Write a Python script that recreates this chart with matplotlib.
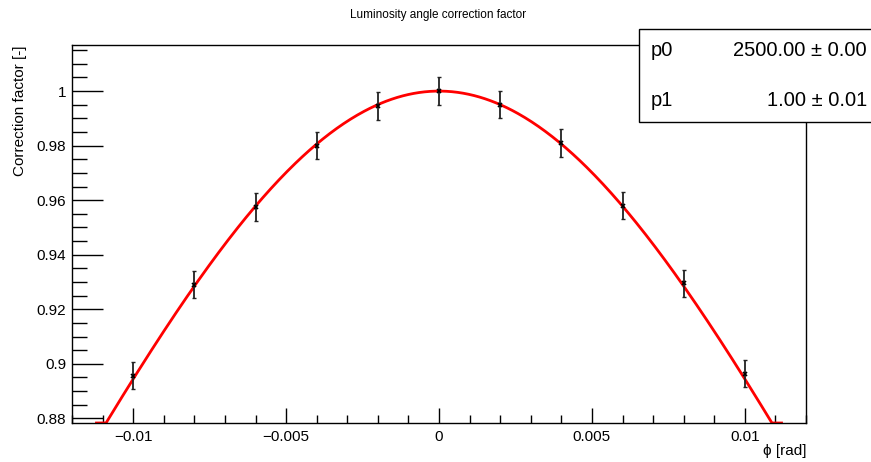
import numpy as np
import matplotlib
matplotlib.use("Agg")
import matplotlib.pyplot as plt
from matplotlib.ticker import MultipleLocator, FixedLocator

plt.rcParams['font.family'] = ['Liberation Sans', 'DejaVu Sans']

# Data
phi = [-0.010, -0.008, -0.006, -0.004, -0.002, 0.0, 0.002, 0.004, 0.006, 0.008, 0.010]
corr = [0.8956, 0.9290, 0.9575, 0.9800, 0.9945, 1.0000, 0.9950, 0.9810, 0.9580, 0.9295, 0.8964]
corr_err = [0.005, 0.005, 0.005, 0.005, 0.005, 0.005, 0.005, 0.005, 0.005, 0.005, 0.005]

# Fit parameters
p0, p0_err = 2500.00, 0.00
p1, p1_err = 1.00, 0.01
fit_range = (-0.0112, 0.0112)

xlim = (-0.012, 0.012)
ylim = (0.8783, 1.0169)

fig = plt.figure(figsize=(8.71, 4.62), dpi=100)
ax = fig.add_axes([72/871, 1-423/462, (806-72)/871, (423-45)/462])

xf = np.linspace(fit_range[0], fit_range[1], 500)
yf = p1 / np.sqrt(1 + p0 * xf**2)
yf = np.clip(yf, ylim[0], None)
ax.plot(xf, yf, color='#ff0000', lw=2.0, zorder=2, clip_on=True)

ax.errorbar(phi, corr, yerr=corr_err, fmt='none', ecolor='#222222',
            elinewidth=1.3, capsize=1.5, capthick=1.0, zorder=3)
ax.plot(phi, corr, ls='none', marker='x', ms=3, mew=1.2, color='black', zorder=4)

ax.set_xlim(*xlim)
ax.set_ylim(*ylim)

ax.xaxis.set_major_locator(FixedLocator([-0.01, -0.005, 0, 0.005, 0.01]))
ax.xaxis.set_minor_locator(MultipleLocator(0.001))
ax.yaxis.set_major_locator(FixedLocator([0.88, 0.90, 0.92, 0.94, 0.96, 0.98, 1.0]))
ax.yaxis.set_minor_locator(MultipleLocator(0.005))
ax.set_xticklabels(['\u22120.01', '\u22120.005', '0', '0.005', '0.01'])
ax.set_yticklabels(['0.88', '0.9', '0.92', '0.94', '0.96', '0.98', '1'])

ax.tick_params(axis='x', which='major', direction='in', length=11, width=1.0,
               labelsize=11, pad=5, top=False)
ax.tick_params(axis='x', which='minor', direction='in', length=5.5, width=1.0, top=False)
ax.tick_params(axis='y', which='major', direction='in', length=22, width=1.0,
               labelsize=11, pad=4, right=False)
ax.tick_params(axis='y', which='minor', direction='in', length=11, width=1.0, right=False)
for s in ax.spines.values():
    s.set_linewidth(1.0)

fig.text(806/871, 1-451/462, '\u03d5 [rad]', ha='right', va='center', fontsize=11)
fig.text(20/871, 1-45/462, 'Correction factor [-]', rotation=90, ha='center', va='top', fontsize=11)
fig.text(438/871, 1-15/462, 'Luminosity angle correction factor', ha='center', va='center', fontsize=8.5)

# Stats box
bx0, by0, bx1, by1 = 639/871, 1-122/462, 1.02, 1-29/462
rect = plt.Rectangle((bx0, by0), bx1-bx0, by1-by0, transform=fig.transFigure,
                     facecolor='white', edgecolor='black', lw=1.0, zorder=10)
fig.add_artist(rect)
fig.text(651/871, 1-51/462, 'p0', ha='left', va='center', fontsize=14.5, zorder=11)
fig.text(867/871, 1-51/462, f'{p0:.2f} \u00b1 {p0_err:.2f}', ha='right', va='center', fontsize=14.5, zorder=11)
fig.text(651/871, 1-100/462, 'p1', ha='left', va='center', fontsize=14.5, zorder=11)
fig.text(867/871, 1-100/462, f'{p1:.2f} \u00b1 {p1_err:.2f}', ha='right', va='center', fontsize=14.5, zorder=11)

fig.savefig('out.png', dpi=100)
